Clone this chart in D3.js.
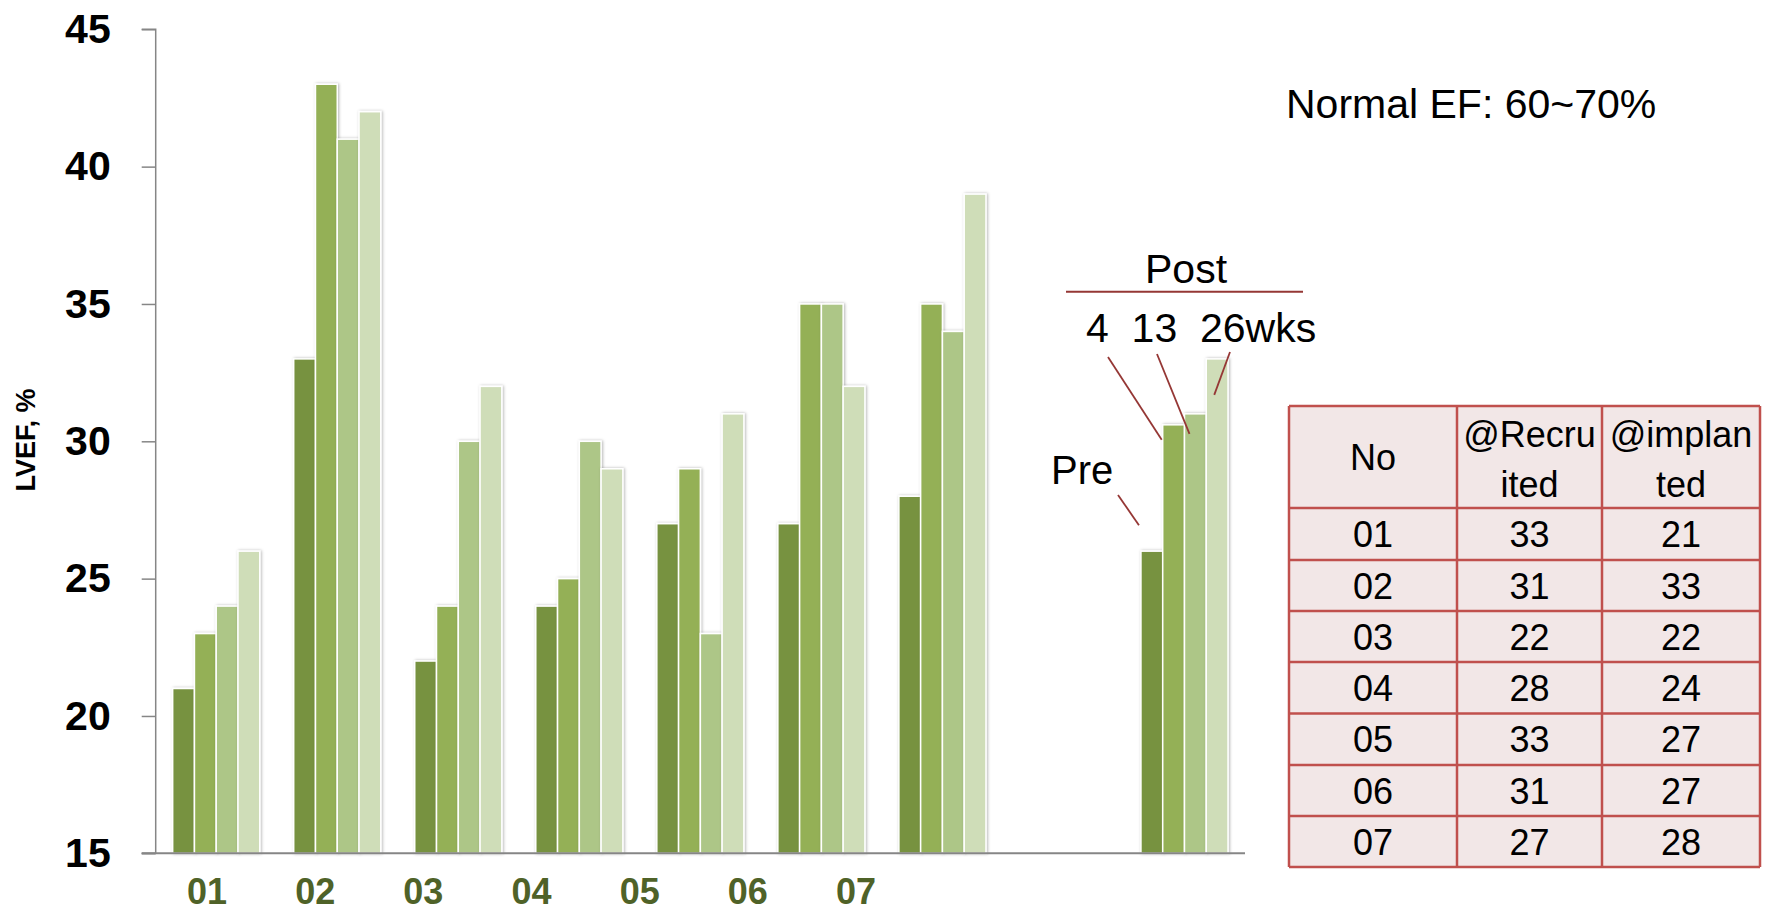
<html>
<head>
<meta charset="utf-8">
<script src="https://cdnjs.cloudflare.com/ajax/libs/d3/7.8.5/d3.min.js"></script>
<style>
  body { margin: 0; background: #fff; }
  text { font-family: "Liberation Sans", Arial, sans-serif; }
  .tick line, .domain { stroke: #868686; stroke-width: 1.5px; }
</style>
</head>
<body>
<script>
// data
var categories = ["01", "02", "03", "04", "05", "06", "07", "gap", "mean"];
var patients = ["01", "02", "03", "04", "05", "06", "07"];
var series = ["Pre", "4wks", "13wks", "26wks"];
var pre    = [21, 33, 22, 24, 27, 27, 28, null, 26];
var wk4    = [23, 43, 24, 25, 29, 35, 35, null, 30.6];
var wk13   = [24, 41, 30, 30, 23, 35, 34, null, 31];
var wk26   = [26, 42, 32, 29, 31, 32, 39, null, 33];
var colors = ["#77923f", "#94b056", "#adc687", "#cfddb8"];
var yTicks = [15, 20, 25, 30, 35, 40, 45];

var tableHead = ["No", "@Recru|ited", "@implan|ted"];
var recruited = [33, 31, 22, 28, 33, 31, 27];
var implanted = [21, 33, 22, 24, 27, 27, 28];

var width = 1767, height = 913;

var svg = d3.select("body").append("svg")
    .attr("width", width)
    .attr("height", height);

var defs = svg.append("defs");
var f = defs.append("filter").attr("id", "shadow")
    .attr("x", "-30%").attr("y", "-5%").attr("width", "160%").attr("height", "110%");
f.append("feDropShadow")
    .attr("dx", 1).attr("dy", 0).attr("stdDeviation", 1.6)
    .attr("flood-color", "#000").attr("flood-opacity", 0.3);

var x0 = d3.scaleBand().domain(categories).range([155.7, 1245]).padding(0);
var x1 = d3.scaleBand().domain(series).range([0, x0.bandwidth()]).paddingOuter(0.78);
var y = d3.scaleLinear().domain([15, 45]).range([853.3, 29.3]);

// y axis
var yAxis = svg.append("g")
    .attr("transform", "translate(155.7,0)")
    .call(d3.axisLeft(y).tickValues(yTicks).tickSize(14).tickPadding(31));
yAxis.selectAll("text")
    .style("font-size", "41px").style("font-weight", "bold")
    .style("font-family", "'Liberation Sans', Arial, sans-serif")
    .attr("fill", "#000");
yAxis.select(".domain").attr("d", "M-14,29.3H0V853.3H-14");

// bars
var rows = categories.map(function (c, i) {
  return { cat: c, vals: [pre[i], wk4[i], wk13[i], wk26[i]] };
}).filter(function (d) { return d.vals[0] != null; });

var groups = svg.selectAll("g.grp").data(rows).enter().append("g")
    .attr("class", "grp")
    .attr("transform", function (d) { return "translate(" + x0(d.cat) + ",0)"; });

groups.selectAll("rect").data(function (d) {
  return d.vals.map(function (v, j) { return { s: series[j], v: v, j: j }; });
}).enter().append("rect")
    .attr("x", function (d) { return x1(d.s); })
    .attr("y", function (d) { return y(d.v); })
    .attr("width", x1.bandwidth())
    .attr("height", function (d) { return y(15) - y(d.v); })
    .attr("fill", function (d) { return colors[d.j]; })
    .attr("stroke", "#fff")
    .attr("stroke-width", 1.5)
    .attr("filter", "url(#shadow)");

// x axis line
svg.append("line")
    .attr("x1", 141.7).attr("x2", 1245)
    .attr("y1", y(15)).attr("y2", y(15))
    .attr("stroke", "#868686").attr("stroke-width", 2);

// x labels (free text boxes in the original, spaced tighter than the bars)
var xl = d3.scalePoint().domain(patients).range([207, 856]);
svg.selectAll("text.xl").data(patients).enter().append("text")
    .attr("class", "xl")
    .attr("x", function (d) { return xl(d); })
    .attr("y", 904)
    .attr("text-anchor", "middle")
    .style("font-size", "36px").style("font-weight", "bold")
    .attr("fill", "#4f6228")
    .text(function (d) { return d; });

// y title
svg.append("text")
    .attr("transform", "translate(35,440) rotate(-90)")
    .attr("text-anchor", "middle")
    .style("font-size", "27px").style("font-weight", "bold")
    .text("LVEF, %");

svg.append("text")
    .attr("x", 1286).attr("y", 118)
    .style("font-size", "41px")
    .text("Normal EF: 60~70%");

// annotations on the mean group
var red = "#953735";
var mx = x0("mean");
svg.append("text").attr("x", 1145).attr("y", 283).style("font-size", "41px").text("Post");
svg.append("line").attr("x1", 1066).attr("x2", 1303).attr("y1", 291.7).attr("y2", 291.7)
    .attr("stroke", red).attr("stroke-width", 2);
svg.append("text").attr("x", 1086).attr("y", 342).style("font-size", "41px")
    .style("white-space", "pre").text("4  13  26wks");
svg.append("text").attr("x", 1051).attr("y", 484).style("font-size", "40px").text("Pre");

var meanVals = [pre[8], wk4[8], wk13[8], wk26[8]];
var pointers = [
  { j: 0, sx: 1118, sy: 495, dx: -2, dy: -26 },
  { j: 1, sx: 1108, sy: 357, dx: -1, dy: 15 },
  { j: 2, sx: 1157, sy: 354, dx: 5, dy: 20 },
  { j: 3, sx: 1230, sy: 352, dx: 8, dy: 36 }
];
svg.selectAll("line.ptr").data(pointers).enter().append("line")
    .attr("class", "ptr")
    .attr("x1", function (d) { return d.sx; })
    .attr("y1", function (d) { return d.sy; })
    .attr("x2", function (d) { return mx + x1(series[d.j]) + d.dx; })
    .attr("y2", function (d) { return y(meanVals[d.j]) + d.dy; })
    .attr("stroke", red).attr("stroke-width", 1.8);

// table
var colX = [1289, 1457, 1602, 1760];
var rowY = [406, 508, 560, 611, 662, 713.5, 765, 816, 867];
var tbl = svg.append("g");
tbl.append("rect")
    .attr("x", colX[0]).attr("y", rowY[0])
    .attr("width", colX[3] - colX[0]).attr("height", rowY[8] - rowY[0])
    .attr("fill", "#f2e7e7");
rowY.forEach(function (ry) {
  tbl.append("line").attr("x1", colX[0]).attr("x2", colX[3]).attr("y1", ry).attr("y2", ry)
      .attr("stroke", "#c0504d").attr("stroke-width", 2.5);
});
colX.forEach(function (cx) {
  tbl.append("line").attr("x1", cx).attr("x2", cx).attr("y1", rowY[0]).attr("y2", rowY[8])
      .attr("stroke", "#c0504d").attr("stroke-width", 2.5);
});
tableHead.forEach(function (h, c) {
  var cx = (colX[c] + colX[c + 1]) / 2;
  var parts = h.split("|");
  if (parts.length === 1) {
    tbl.append("text").attr("x", cx).attr("y", 470).attr("text-anchor", "middle")
        .style("font-size", "36px").text(parts[0]);
  } else {
    tbl.append("text").attr("x", cx).attr("y", 447).attr("text-anchor", "middle")
        .style("font-size", "36px").text(parts[0]);
    tbl.append("text").attr("x", cx).attr("y", 497).attr("text-anchor", "middle")
        .style("font-size", "36px").text(parts[1]);
  }
});
patients.forEach(function (p, i) {
  var cells = [p, recruited[i], implanted[i]];
  var cy = (rowY[i + 1] + rowY[i + 2]) / 2 + 13;
  cells.forEach(function (v, c) {
    tbl.append("text")
        .attr("x", (colX[c] + colX[c + 1]) / 2).attr("y", cy)
        .attr("text-anchor", "middle")
        .style("font-size", "36px")
        .text(v);
  });
});
</script>
</body>
</html>
